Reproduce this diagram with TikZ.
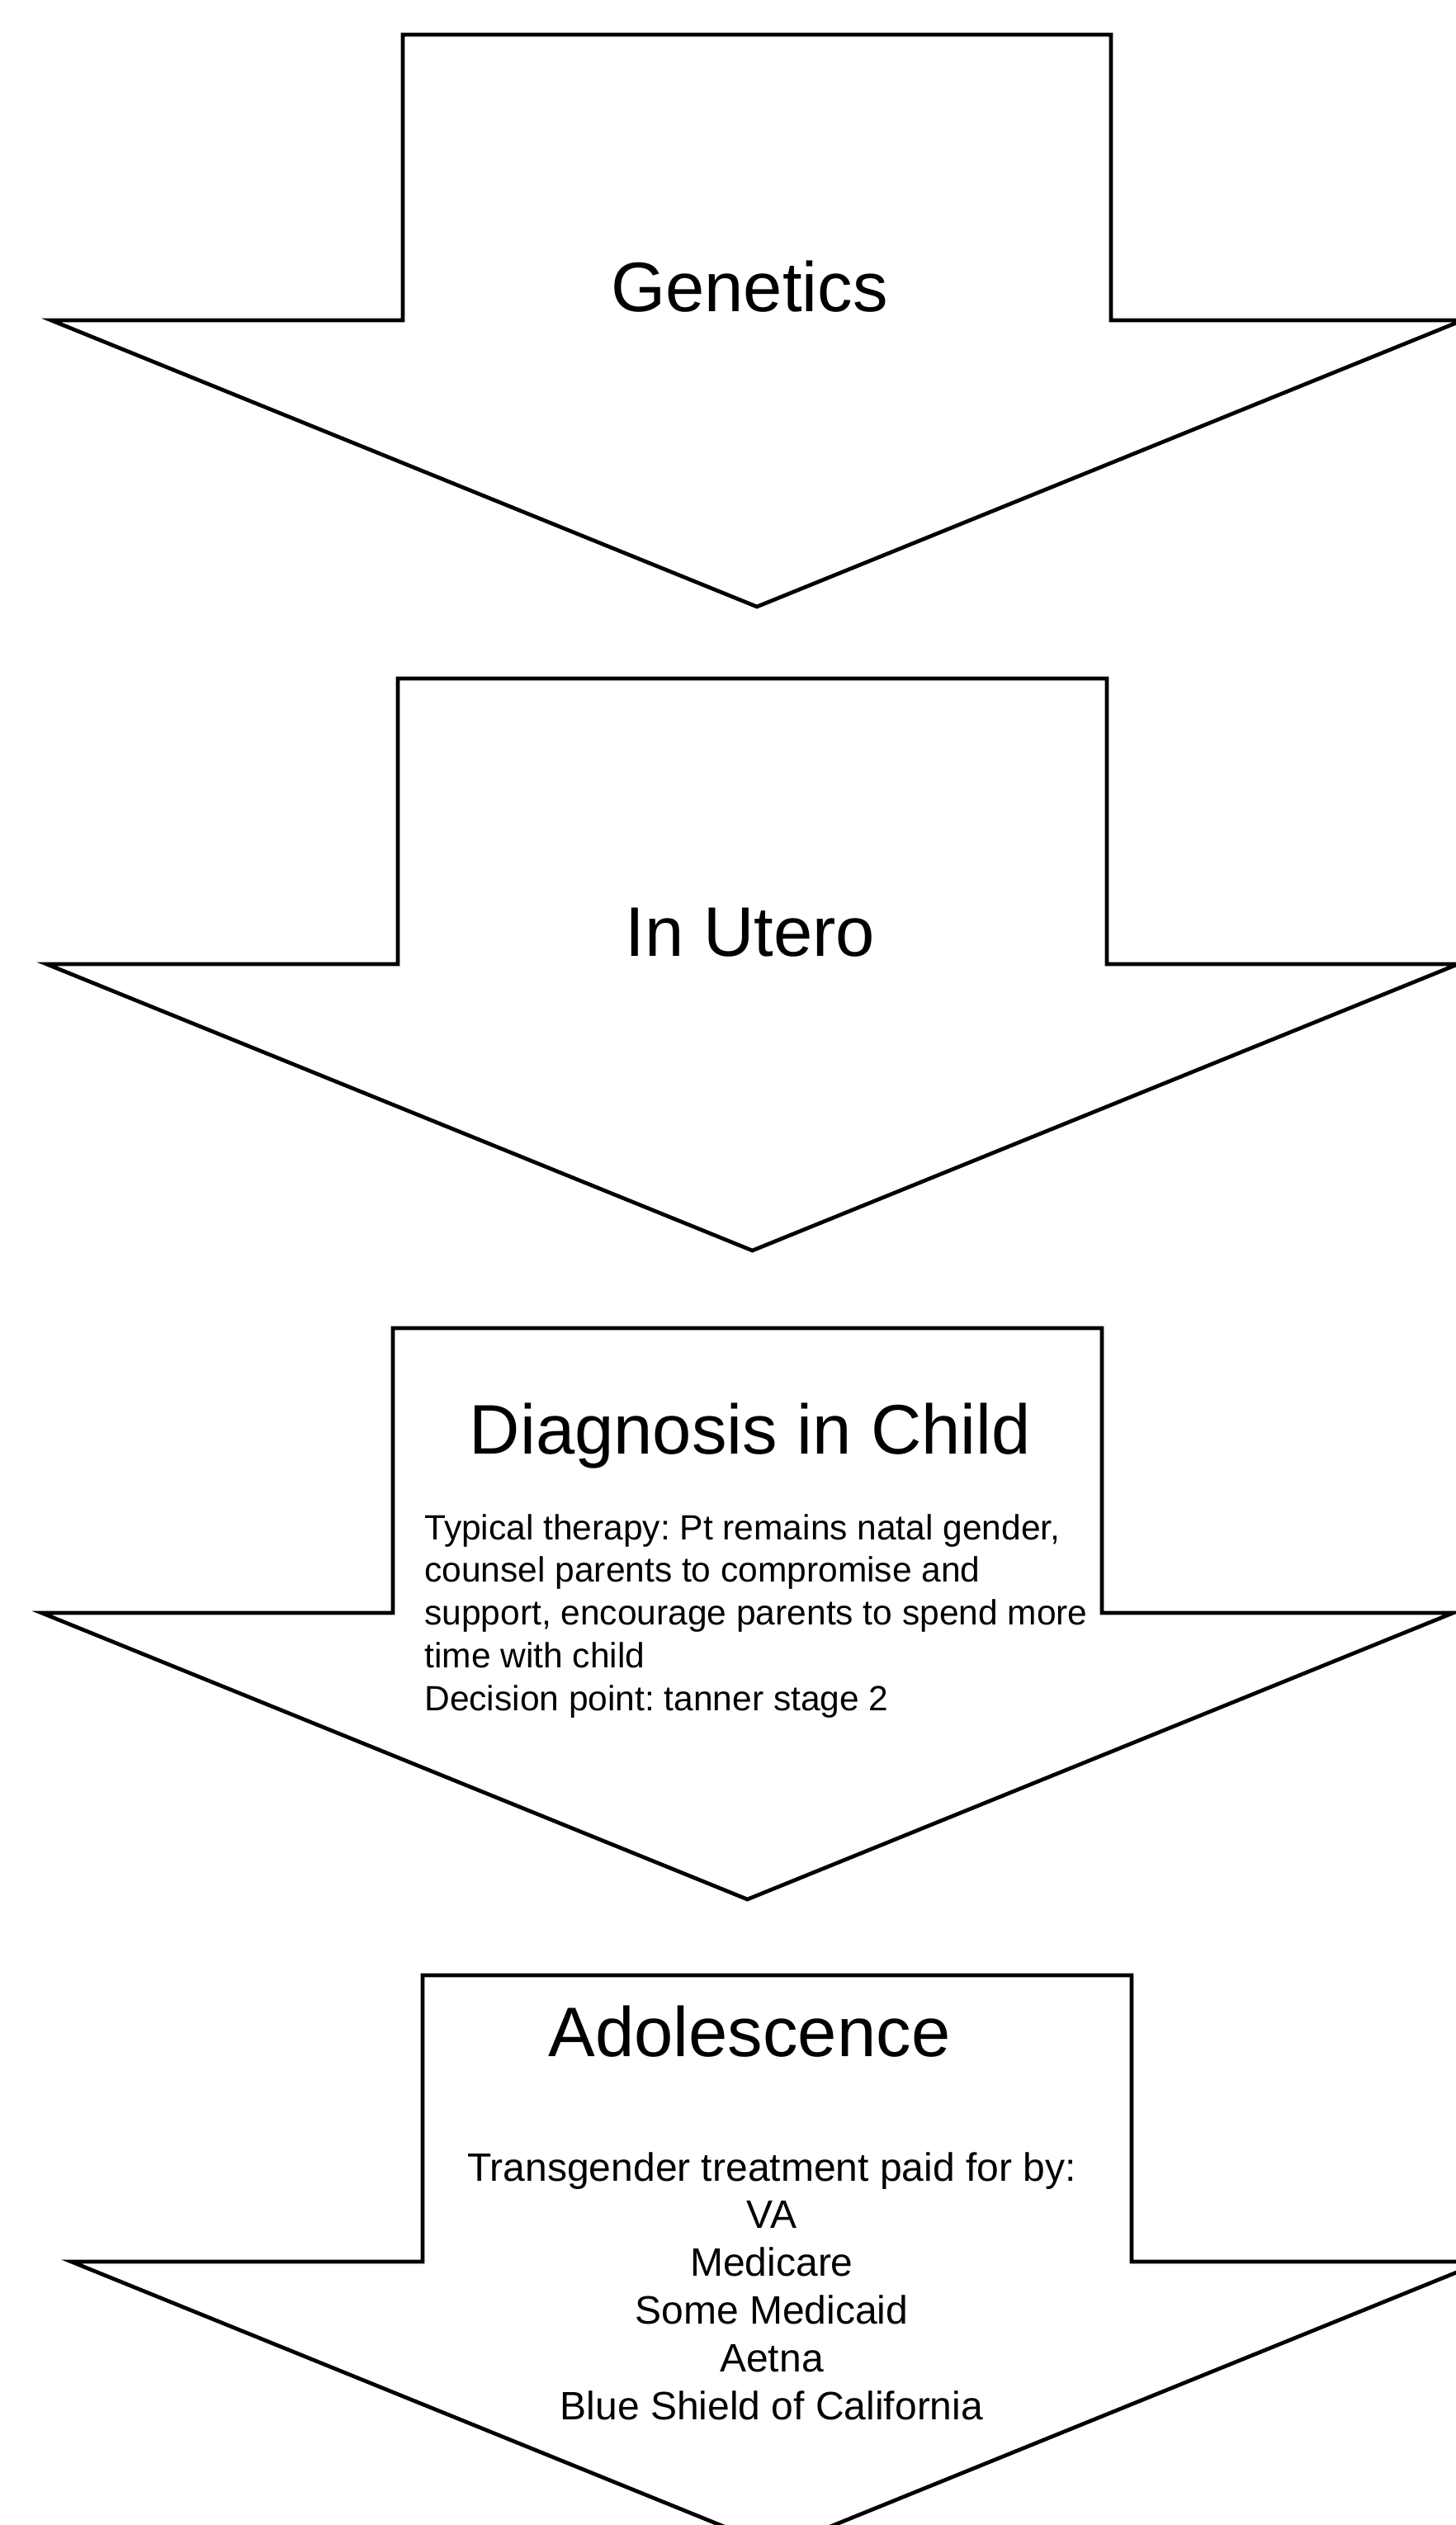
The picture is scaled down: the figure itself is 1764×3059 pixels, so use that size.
\documentclass[tikz,border=0pt]{standalone}
\usepackage{fontspec}
\setmainfont{Liberation Sans}
\frenchspacing
\newcommand\dnarrow[5]{% left, right, top, shoulder, centre
  \draw[arrowshape] (#1,#3) -- (#2,#3) -- (#2,#4) -- (#5+855,#4) -- (#5,#4+347)
    -- (#5-855,#4) -- (#1,#4) -- cycle;}
\begin{document}
\begin{tikzpicture}[x=0.5pt,y=-0.5pt,
  arrowshape/.style={draw=black,line width=2.35pt,fill=white,line join=miter},
  titletext/.style={font=\fontsize{42.5}{51}\selectfont,inner sep=0pt,anchor=base},
  smallleft/.style={font=\fontsize{21.25}{25.9}\selectfont,inner sep=0pt,anchor=base west},
  smallcenter/.style={font=\fontsize{24}{28.9}\selectfont,inner sep=0pt,anchor=base}]
\useasboundingbox (0,0) rectangle (1764,3059);
\fill[white] (0,0) rectangle (1764,3059);
\clip (0,0) rectangle (1764,3059);
\dnarrow{488}{1346}{42}{388}{917}
\dnarrow{482}{1341}{822}{1168}{911.5}
\dnarrow{476}{1335}{1609}{1954}{905.5}
\dnarrow{512}{1371}{2393}{2740}{941.5}
\node[titletext] (genetics) at (908,377) {Genetics};
\node[titletext] (utero) at (909,1158) {In Utero};
\node[titletext] (diag) at (909,1761) {Diagnosis in Child};
\node[titletext] (adol) at (908,2491) {Adolescence};
\node[smallleft] (d1) at (514,1865) {Typical therapy: Pt remains natal gender,};
\node[smallleft] (d2) at (514,1916.75) {counsel parents to compromise and};
\node[smallleft] (d3) at (514,1968.5) {support, encourage parents to spend more};
\node[smallleft] (d4) at (514,2020.25) {time with child};
\node[smallleft] (d5) at (514,2072) {Decision point: tanner stage 2};
\node[smallcenter] (a1) at (935,2642) {Transgender treatment paid for by:};
\node[smallcenter] (a2) at (935,2699.8) {VA};
\node[smallcenter] (a3) at (935,2757.6) {Medicare};
\node[smallcenter] (a4) at (935,2815.4) {Some Medicaid};
\node[smallcenter] (a5) at (935,2873.2) {Aetna};
\node[smallcenter] (a6) at (935,2931) {Blue Shield of California};
\end{tikzpicture}
\end{document}
